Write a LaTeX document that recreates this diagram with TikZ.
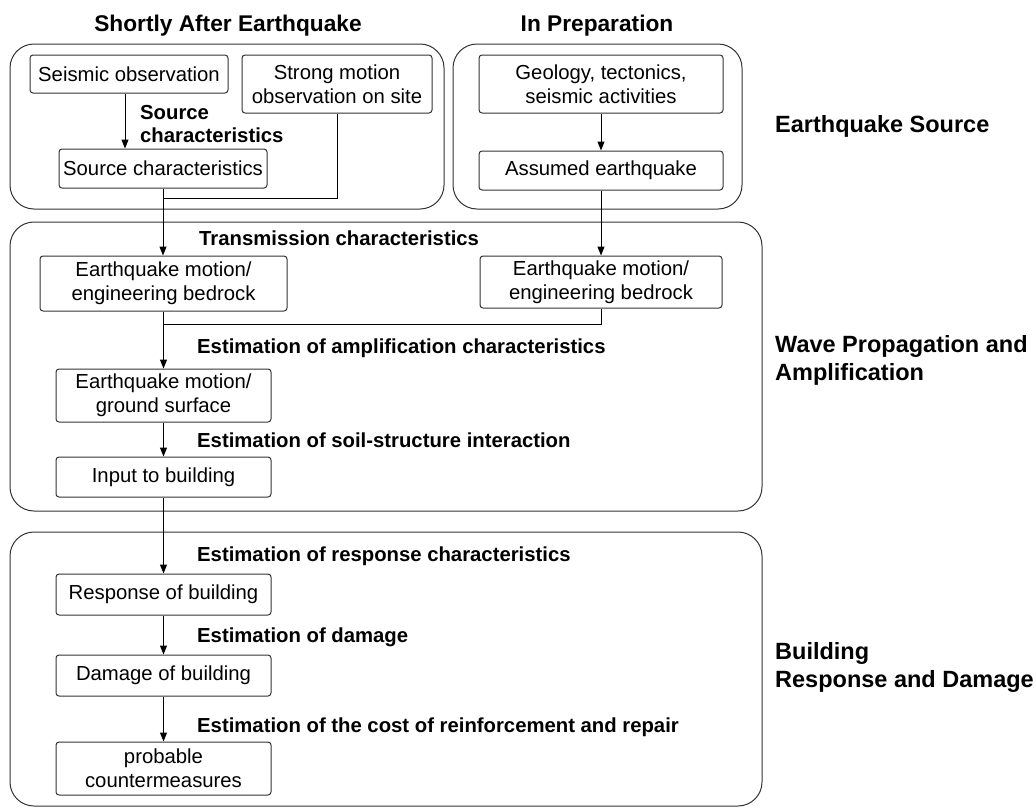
\documentclass[tikz,border=0pt]{standalone}
\usepackage{fontspec}
\setmainfont{Liberation Sans}
\usetikzlibrary{arrows.meta,calc}
\begin{document}
\begin{tikzpicture}[x=1pt,y=-1pt,
  box/.style={draw=black!80, line width=1pt, rounded corners=3pt, align=center, inner sep=0pt,
    font=\fontsize{20.3}{24}\selectfont},
  panel/.style={draw=black!80, line width=1pt, rounded corners=24pt},
  lbl/.style={anchor=base west, inner sep=0pt, align=left, font=\fontsize{20.3}{23}\selectfont\bfseries},
  head/.style={anchor=base, inner sep=0pt, font=\fontsize{22.7}{27}\selectfont\bfseries},
  side/.style={anchor=base west, inner sep=0pt, font=\fontsize{23.5}{28}\selectfont\bfseries},
  arr/.style={-{Triangle[length=9pt,width=7pt]}, line width=1pt},
  ln/.style={line width=1pt}]
\useasboundingbox (0,0) rectangle (1036,809);

% panels
\draw[panel] (10,44) rectangle (444,209);
\draw[panel] (453,44) rectangle (742,209);
\draw[panel] (10,222) rectangle (762,511);
\draw[panel] (10,532) rectangle (762,806);

% headers
\node[head] (h1) at (228,31) {Shortly After Earthquake};
\node[head] (h2) at (597,31) {In Preparation};

% side labels
\node[side] (s1) at (775,132) {Earthquake Source};
\node[side] (s2) at (775,352) {Wave Propagation and};
\node[side] (s2b) at (775,380) {Amplification};
\node[side] (s3) at (775,659) {Building};
\node[side] (s3b) at (775,687) {Response and Damage};

% boxes
\node[box, minimum width=198pt, minimum height=38pt] (seis) at (129,74) {Seismic observation};
\node[box, minimum width=190pt, minimum height=58pt] (strong) at (337,84) {Strong motion\\observation on site};
\node[box, minimum width=208pt, minimum height=39pt] (srcc) at (163,168.5) {Source characteristics};
\node[box, minimum width=244pt, minimum height=58pt] (geo) at (601,84) {Geology, tectonics,\\seismic activities};
\node[box, minimum width=244pt, minimum height=39pt] (assumed) at (601,170.5) {Assumed earthquake};
\node[box, minimum width=247pt, minimum height=55pt] (em1) at (163.5,283.5) {Earthquake motion/\\engineering bedrock};
\node[box, minimum width=242pt, minimum height=52pt] (em2) at (601,282) {Earthquake motion/\\engineering bedrock};
\node[box, minimum width=215pt, minimum height=53pt] (emg) at (163.5,395.5) {Earthquake motion/\\ground surface};
\node[box, minimum width=215pt, minimum height=40pt] (input) at (163.5,477) {Input to building};
\node[box, minimum width=215pt, minimum height=41pt] (resp) at (163.5,594.5) {Response of building};
\node[box, minimum width=215pt, minimum height=41pt] (dmg) at (163.5,675.5) {Damage of building};
\node[box, minimum width=215pt, minimum height=53pt] (prob) at (163.5,768.5) {probable\\countermeasures};

% labels
\node[lbl] (l0) at (140,119) {Source};
\node[lbl] (l0b) at (140,142) {characteristics};
\node[lbl] (l1) at (199,245) {Transmission characteristics};
\node[lbl] (l2) at (197,353) {Estimation of amplification characteristics};
\node[lbl] (l3) at (197,447) {Estimation of soil-structure interaction};
\node[lbl] (l4) at (197,561) {Estimation of response characteristics};
\node[lbl] (l5) at (197,642) {Estimation of damage};
\node[lbl] (l6) at (197,732) {Estimation of the cost of reinforcement and repair};

% connectors
\coordinate (j1) at ($(srcc.south)+(0,10)$);
\draw[arr] ([xshift=-4pt]seis.south) -- ([xshift=-4pt]seis.south |- srcc.north);
\draw[ln] (strong.south) |- (j1);
\draw[arr] (srcc.south) -- (srcc.south |- em1.north);
\draw[arr] (geo.south) -- (assumed.north);
\draw[arr] (assumed.south) -- (em2.north);
\coordinate (j2) at ($(em1.south)+(0,13)$);
\draw[ln] (em2.south) |- (j2);
\draw[arr] (em1.south) -- (emg.north);
\draw[arr] (emg.south) -- (input.north);
\draw[arr] (input.south) -- (resp.north);
\draw[arr] (resp.south) -- (dmg.north);
\draw[arr] (dmg.south) -- (prob.north);
\end{tikzpicture}
\end{document}
